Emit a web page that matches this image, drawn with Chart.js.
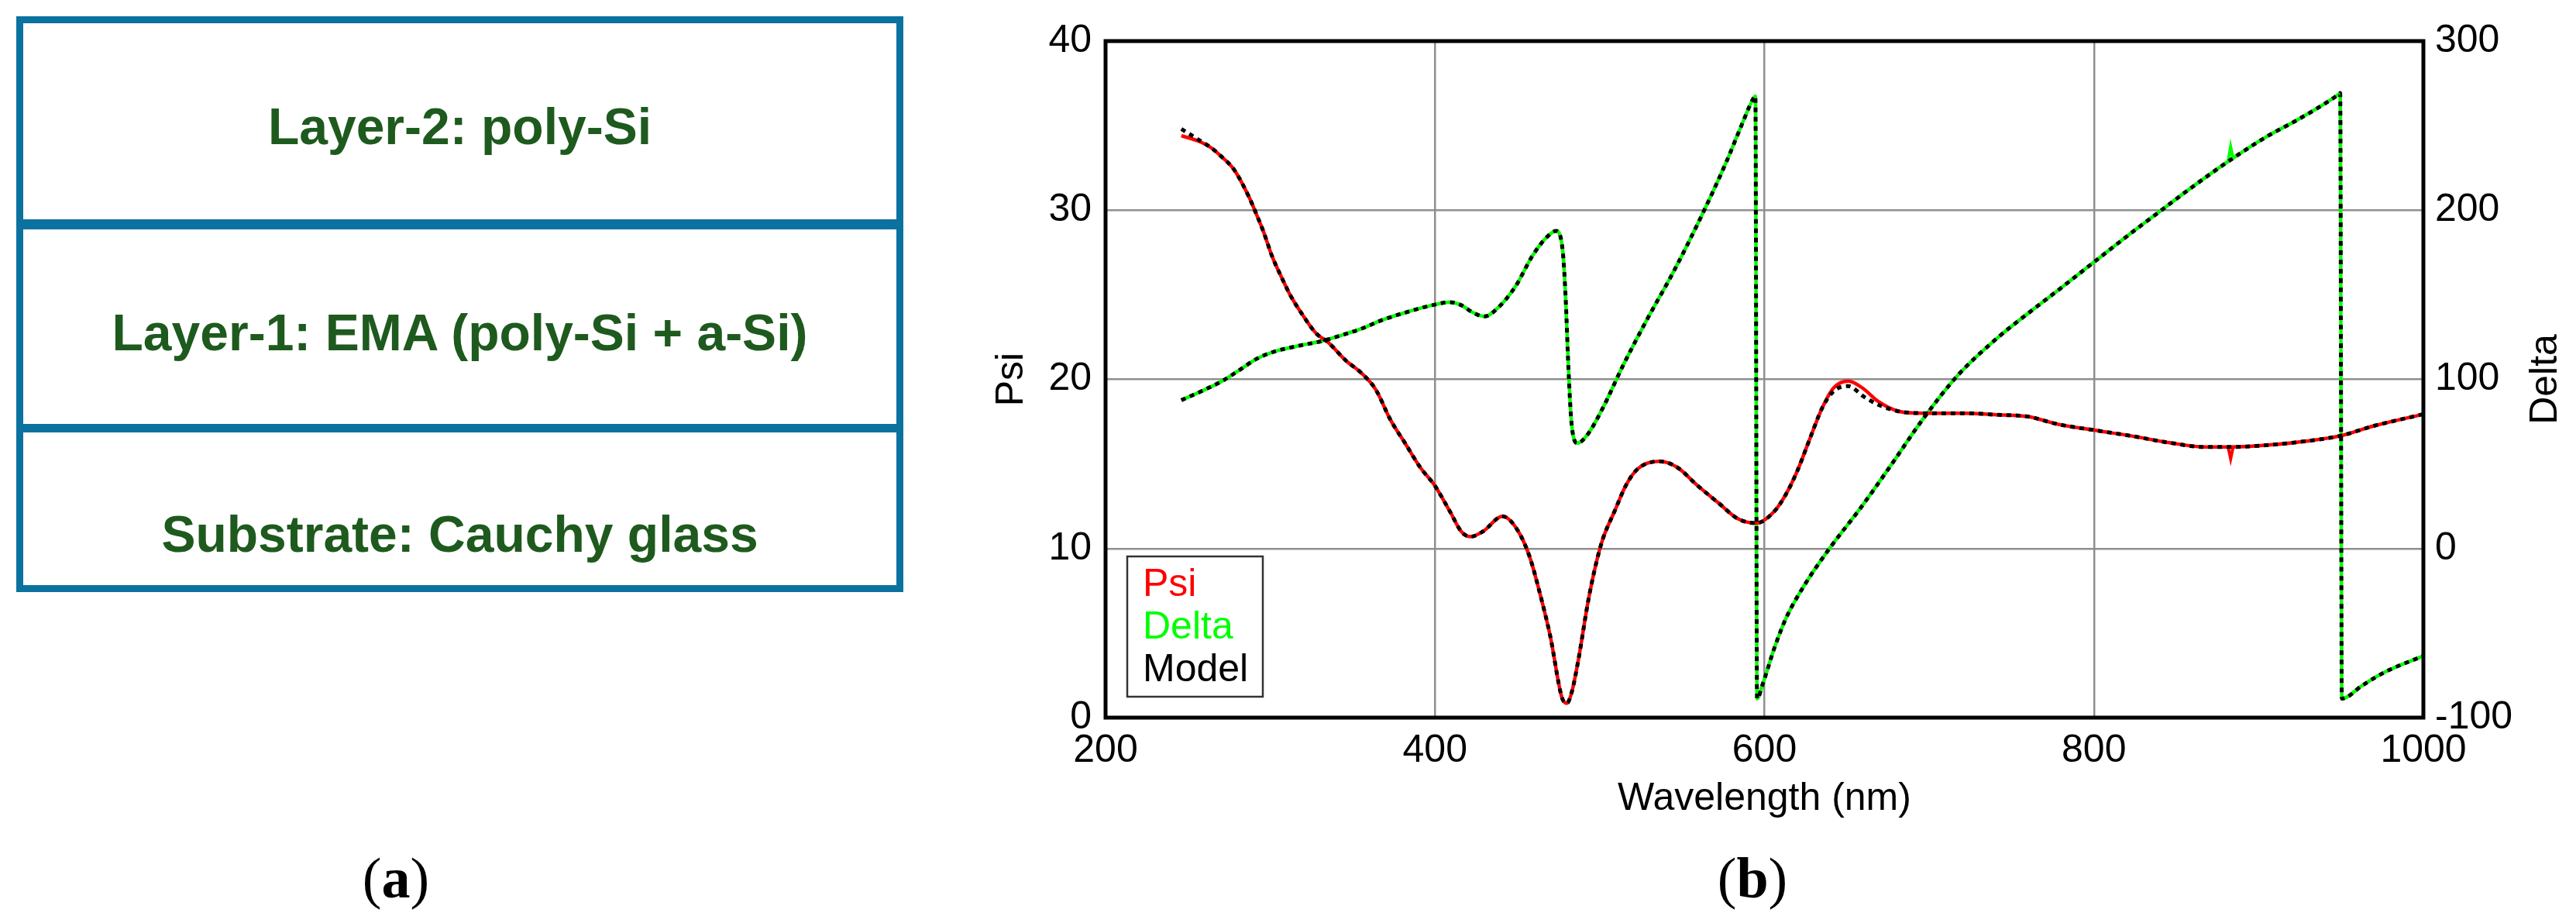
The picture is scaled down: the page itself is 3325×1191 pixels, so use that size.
<!DOCTYPE html>
<html lang="en">
<head>
<meta charset="UTF-8">
<title>Layer model and Psi / Delta fit</title>
<script src="https://cdn.jsdelivr.net/npm/chart.js"></script>
<style>
  body {
    margin: 0;
    width: 3325px;
    height: 1191px;
    position: relative;
    overflow: hidden;
    background: #fff;
    font-family: "Liberation Sans", Arial, sans-serif;
  }
  .stack {
    position: absolute;
    left: 21px;
    top: 21px;
    width: 1145px;
    height: 743px;
    border: 9px solid #0b72a0;
    box-sizing: border-box;
  }
  .divider {
    position: absolute;
    left: 21px;
    width: 1145px;
    background: #0b72a0;
  }
  .layer {
    position: absolute;
    left: 30px;
    width: 1127px;
    text-align: center;
    font-weight: bold;
    font-size: 66px;
    line-height: 1;
    color: #1e5a1e;
    white-space: nowrap;
  }
  .panel-tag {
    position: absolute;
    width: 200px;
    text-align: center;
    font-family: "Liberation Serif", "Times New Roman", serif;
    font-size: 74px;
    line-height: 1;
    color: #000;
  }
  #chartBox {
    position: absolute;
    left: 1200px;
    top: 0;
  }
</style>
</head>
<body>
  <!-- (a) layer stack -->
  <div class="stack"></div>
  <div class="divider" style="top:283px;height:13px"></div>
  <div class="divider" style="top:547px;height:11px"></div>
  <div class="layer" style="top:130px">Layer-2: poly-Si</div>
  <div class="layer" style="top:396px">Layer-1: EMA (poly-Si + a-Si)</div>
  <div class="layer" style="top:656px">Substrate: Cauchy glass</div>
  <div class="panel-tag" style="left:411px;top:1096px">(<b>a</b>)</div>
  <div class="panel-tag" style="left:2162px;top:1096px">(<b>b</b>)</div>

  <!-- (b) Psi / Delta spectra -->
  <div id="chartBox"><canvas id="spectra" width="2125" height="1191"></canvas></div>

<script>
// measured Psi (deg) vs wavelength (nm)
const psiWl = [246, 256, 264, 270, 278, 287, 291, 296, 301, 307, 312, 319, 328, 335, 346, 355, 364, 373, 382, 391,
  400, 409, 416, 421.5, 429, 441, 450, 457.5, 463, 470, 477, 480, 483, 487, 493, 498, 502, 509, 516, 523,
  536, 547, 559, 572, 584, 595, 606, 613, 620, 628, 635, 642, 651, 660, 669, 682, 696, 721, 742, 760,
  778, 800, 823, 846, 868, 883, 904, 929, 949, 970, 998, 1000];
const psiVal = [34.4, 34.1, 33.7, 33.2, 32.4, 30.8, 29.9, 28.7, 27.3, 26.0, 25.0, 23.9, 22.7, 22.2, 21.1, 20.4, 19.4, 17.6, 16.2, 14.8,
  13.7, 12.2, 11.0, 10.7, 11.0, 11.9, 11.1, 9.5, 7.6, 4.8, 1.2, 0.85, 1.5, 3.4, 6.9, 9.2, 10.6, 12.2, 13.75, 14.7,
  15.15, 14.8, 13.75, 12.7, 11.75, 11.5, 12.2, 13.2, 14.6, 16.6, 18.3, 19.5, 19.9, 19.45, 18.7, 18.1, 18.0, 18.0, 17.9, 17.8,
  17.35, 17.0, 16.65, 16.25, 16.0, 16.0, 16.1, 16.35, 16.65, 17.25, 17.9, 17.95];
// model Psi at the same wavelengths
const modelPsi = [34.8, 34.2, 33.7, 33.2, 32.4, 30.8, 29.9, 28.7, 27.3, 26.0, 25.0, 23.9, 22.7, 22.2, 21.1, 20.4, 19.4, 17.6, 16.2, 14.8,
  13.7, 12.2, 11.0, 10.7, 11.0, 11.9, 11.1, 9.5, 7.6, 4.8, 1.2, 0.85, 1.5, 3.4, 6.9, 9.2, 10.6, 12.2, 13.75, 14.7,
  15.15, 14.8, 13.75, 12.7, 11.75, 11.5, 12.2, 13.2, 14.6, 16.6, 18.3, 19.3, 19.6, 19.0, 18.5, 18.1, 18.0, 18.0, 17.9, 17.8,
  17.35, 17.0, 16.65, 16.25, 16.0, 16.0, 16.1, 16.35, 16.65, 17.25, 17.9, 17.95];

// measured Delta (deg) vs wavelength (nm)
const deltaWl = [246, 258, 271, 281, 292, 303, 316, 332, 344, 355, 368, 382, 395, 409, 416, 423, 430, 438, 449, 459,
  468, 473.5, 477.5, 479.3, 481.1, 483, 486.5, 492.7, 502, 514, 529, 545, 563, 577, 586, 593.5, 594.5, 595.5, 599, 606,
  613, 624, 640, 658, 676, 696, 717.5, 742, 760, 778, 800, 823, 841, 859, 883, 904, 922, 936,
  948.5, 949.5, 950.5, 963, 977, 1000];
const deltaVal = [87.7, 92.9, 99.1, 105.3, 112.3, 116.6, 119.6, 122.8, 126.3, 129.8, 135.1, 139.5, 143.0, 145.6, 143.8, 139.5, 137.2, 142.1, 155.2, 172.8,
  184.2, 187.7, 176.3, 148.2, 104.4, 72.8, 62.3, 67.5, 83.3, 107.9, 135.9, 164.0, 199.1, 228.9, 250.0, 266.5, 267.5, -88.8, -80.0, -58.9,
  -41.4, -22.1, 0.7, 23.5, 48.1, 76.2, 102.5, 125.0, 139.0, 152.5, 169.3, 186.8, 200.0, 213.2, 229.8, 243.0, 252.6, 260.5,
  268.5, 269.3, -88.8, -80.9, -72.9, -63.5];
// model Delta at the same wavelengths
const modelDelta = [87.7, 92.9, 99.1, 105.3, 112.3, 116.6, 119.6, 122.8, 126.3, 129.8, 135.1, 139.5, 143.0, 145.6, 143.8, 139.5, 137.2, 142.1, 155.2, 172.8,
  184.2, 187.7, 176.3, 148.2, 104.4, 72.8, 62.3, 67.5, 83.3, 107.9, 135.9, 164.0, 199.1, 228.9, 250.0, 266.5, 267.5, -88.8, -80.0, -58.9,
  -41.4, -22.1, 0.7, 23.5, 48.1, 76.2, 102.5, 125.0, 139.0, 152.5, 169.3, 186.8, 200.0, 213.2, 229.8, 243.0, 252.6, 260.5,
  268.5, 269.3, -88.8, -80.9, -72.9, -63.5];

// single-point glitch in the measured data near 883 nm
const glitchWl = [881.5, 883, 884.5];
const psiGlitch = [16.0, 15.3, 16.0];
const deltaGlitch = [229.0, 237.5, 230.6];

const wlTicks = [200, 400, 600, 800, 1000];
const psiTicks = [0, 10, 20, 30, 40];
const deltaTicks = [-100, 0, 100, 200, 300];

function toPoints(xs, ys) {
  return xs.map((x, i) => ({ x: x, y: ys[i] }));
}

Chart.defaults.font.family = '"Liberation Sans", Arial, sans-serif';
Chart.defaults.font.size = 50;
Chart.defaults.font.lineHeight = 1.2;
Chart.defaults.color = '#000';

const gridColor = '#8f8f8f';
const plainLabel = v => String(v);

// black box round the plot area, drawn over the curves
const frame = {
  id: 'frame',
  afterDatasetsDraw(chart) {
    const a = chart.chartArea, c = chart.ctx;
    c.save();
    c.strokeStyle = '#000';
    c.lineWidth = 5;
    c.strokeRect(a.left, a.top, a.right - a.left, a.bottom - a.top);
    c.restore();
  }
};

// legend box inside the plot, text in the series colour
const boxLegend = {
  id: 'boxLegend',
  afterDraw(chart) {
    const c = chart.ctx;
    const seen = [];
    chart.data.datasets.forEach(ds => {
      if (!seen.find(s => s.label === ds.label)) seen.push({ label: ds.label, color: ds.borderColor });
    });
    const x0 = 1455 - 1200, y0 = 718, w = 175, h = 181;
    c.save();
    c.fillStyle = '#fff';
    c.fillRect(x0, y0, w, h);
    c.strokeStyle = '#333';
    c.lineWidth = 2.5;
    c.strokeRect(x0, y0, w, h);
    c.font = '50px "Liberation Sans", Arial, sans-serif';
    c.textBaseline = 'alphabetic';
    c.textAlign = 'left';
    seen.forEach((s, i) => {
      c.fillStyle = s.color;
      c.fillText(s.label, x0 + 20, 769 + i * 55);
    });
    c.restore();
  }
};

// right axis title, reading bottom to top
const deltaTitle = {
  id: 'deltaTitle',
  afterDraw(chart) {
    const c = chart.ctx;
    const a = chart.chartArea;
    c.save();
    c.translate(3286 - 1200, (a.top + a.bottom) / 2);
    c.rotate(-Math.PI / 2);
    c.font = '50px "Liberation Sans", Arial, sans-serif';
    c.fillStyle = '#000';
    c.textAlign = 'center';
    c.textBaseline = 'middle';
    c.fillText('Delta', 0, 0);
    c.restore();
  }
};

const ctx = document.getElementById('spectra').getContext('2d');
const spectraChart = new Chart(ctx, {
  type: 'line',
  data: {
    datasets: [
      { label: 'Psi', data: toPoints(psiWl, psiVal), yAxisID: 'yPsi', borderColor: '#ff0000', borderWidth: 4.5, order: 2 },
      { label: 'Delta', data: toPoints(deltaWl, deltaVal), yAxisID: 'yDelta', borderColor: '#00ff00', borderWidth: 4.5, order: 2 },
      { label: 'Model', data: toPoints(psiWl, modelPsi), yAxisID: 'yPsi', borderColor: '#000000', borderWidth: 5, borderDash: [6, 6], order: 1 },
      { label: 'Model', data: toPoints(deltaWl, modelDelta), yAxisID: 'yDelta', borderColor: '#000000', borderWidth: 5, borderDash: [6, 6], order: 1 },
      { label: 'Psi', data: toPoints(glitchWl, psiGlitch), yAxisID: 'yPsi', borderColor: '#ff0000', borderWidth: 4, tension: 0, cubicInterpolationMode: 'default', order: 3 },
      { label: 'Delta', data: toPoints(glitchWl, deltaGlitch), yAxisID: 'yDelta', borderColor: '#00ff00', borderWidth: 4, tension: 0, cubicInterpolationMode: 'default', order: 3 }
    ]
  },
  options: {
    responsive: false,
    animation: false,
    events: [],
    layout: { padding: { top: 53, left: 0, right: 0, bottom: 0 } },
    elements: {
      point: { radius: 0 },
      line: { cubicInterpolationMode: 'monotone', fill: false }
    },
    plugins: {
      legend: { display: false },
      tooltip: { enabled: false }
    },
    scales: {
      x: {
        type: 'linear',
        min: 200,
        max: 1000,
        afterBuildTicks(s) { s.ticks = wlTicks.map(v => ({ value: v })); },
        afterFit(s) { s.height = 265; },
        ticks: { padding: 13, callback: plainLabel },
        grid: { color: gridColor, lineWidth: 2.5, drawTicks: false },
        border: { display: false },
        title: { display: true, text: 'Wavelength (nm)', padding: { top: 0, bottom: 130 } }
      },
      yPsi: {
        position: 'left',
        min: 0,
        max: 40,
        afterBuildTicks(s) { s.ticks = psiTicks.map(v => ({ value: v })); },
        afterFit(s) { s.width = 227; },
        ticks: { padding: 18, callback: plainLabel },
        grid: { color: gridColor, lineWidth: 2.5, drawTicks: false },
        border: { display: false },
        title: { display: true, text: 'Psi', padding: { top: 76, bottom: 0 } }
      },
      yDelta: {
        position: 'right',
        min: -100,
        max: 300,
        afterBuildTicks(s) { s.ticks = deltaTicks.map(v => ({ value: v })); },
        afterFit(s) { s.width = 197; },
        ticks: { padding: 15, callback: plainLabel },
        grid: { display: false, drawTicks: false },
        border: { display: false }
      }
    }
  },
  plugins: [frame, boxLegend, deltaTitle]
});
</script>
</body>
</html>
